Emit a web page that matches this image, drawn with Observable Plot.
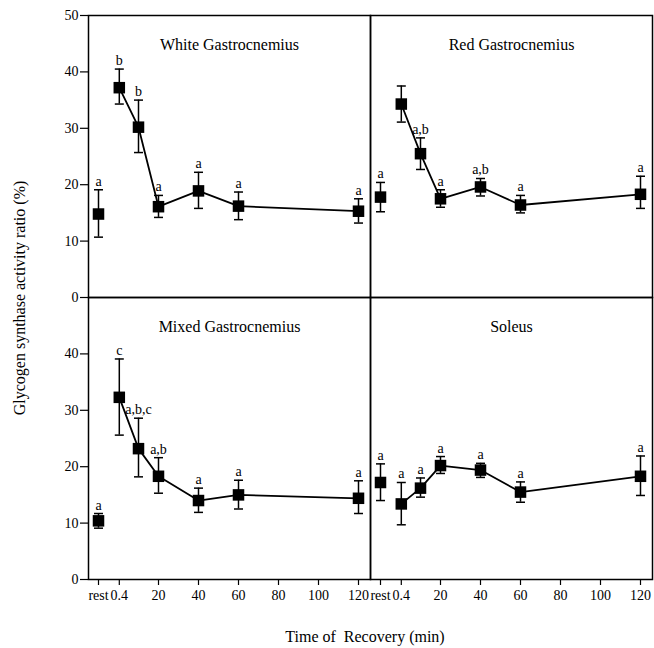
<!DOCTYPE html>
<html><head><meta charset="utf-8">
<script src="https://cdn.jsdelivr.net/npm/d3@7"></script>
<script src="https://cdn.jsdelivr.net/npm/@observablehq/plot@0.6"></script>
<style>body{margin:0;background:#fff}</style>
</head><body><div id="chart"></div>
<script>
// ---- data ----
const times = ["rest", 0.4, 10, 20, 40, 60, 120];
const restPosition = -10;
const xTickValues = ["rest", 0.4, 20, 40, 60, 80, 100, 120];
const yTicksTop = [0, 10, 20, 30, 40, 50];
const yTicksBottom = [0, 10, 20, 30, 40];
const muscles = ["White Gastrocnemius", "Red Gastrocnemius", "Mixed Gastrocnemius", "Soleus"];
const panelCol = ["left", "right", "left", "right"];
const panelRow = ["top", "top", "bottom", "bottom"];

const whiteMean = [14.8, 37.2, 30.2, 16.1, 18.9, 16.2, 15.3];
const whiteLow  = [10.7, 34.3, 25.7, 14.2, 15.8, 13.8, 13.2];
const whiteHigh = [19.1, 40.5, 35.0, 18.1, 22.2, 18.7, 17.5];
const whiteSig  = ["a", "b", "b", "a", "a", "a", "a"];

const redMean = [17.8, 34.3, 25.5, 17.5, 19.6, 16.4, 18.3];
const redLow  = [15.2, 31.1, 22.7, 16.0, 18.0, 15.0, 15.8];
const redHigh = [20.4, 37.5, 28.3, 19.1, 21.1, 18.1, 21.5];
const redSig  = ["a", "", "a,b", "a", "a,b", "a", "a"];

const mixedMean = [10.4, 32.3, 23.2, 18.3, 14.0, 15.0, 14.4];
const mixedLow  = [9.1, 25.6, 18.2, 15.3, 11.9, 12.5, 11.7];
const mixedHigh = [11.7, 39.1, 28.6, 21.6, 16.2, 17.6, 17.5];
const mixedSig  = ["a", "c", "a,b,c", "a,b", "a", "a", "a"];

const soleusMean = [17.2, 13.4, 16.2, 20.2, 19.4, 15.5, 18.3];
const soleusLow  = [14.0, 9.7, 14.6, 18.8, 18.1, 13.7, 14.9];
const soleusHigh = [20.5, 17.2, 18.0, 21.8, 20.6, 17.3, 21.9];
const soleusSig  = ["a", "a", "a", "a", "a", "a", "a"];

// ---- build tables ----
const series = [
  [whiteMean, whiteLow, whiteHigh, whiteSig],
  [redMean, redLow, redHigh, redSig],
  [mixedMean, mixedLow, mixedHigh, mixedSig],
  [soleusMean, soleusLow, soleusHigh, soleusSig]
];
const toX = t => t === "rest" ? restPosition : t;
const rows = [];
muscles.forEach((m, i) => {
  const [mean, low, high, sig] = series[i];
  times.forEach((t, j) => rows.push({
    muscle: m, col: panelCol[i], row: panelRow[i], time: t, x: toX(t),
    mean: mean[j], low: low[j], high: high[j], sig: sig[j]
  }));
});
const panels = muscles.map((m, i) => ({name: m, col: panelCol[i], row: panelRow[i]}));

const font = "'Liberation Serif', 'Times New Roman', serif";
const cap = {draw(context, size) { const r = Math.sqrt(size / Math.PI); context.moveTo(-r, 0); context.lineTo(r, 0); }};
const fc = {fx: "col", fy: "row"};

const chart = Plot.plot({
  width: 654, height: 648,
  marginLeft: 88, marginRight: 2, marginTop: 14, marginBottom: 69,
  style: {fontFamily: font, fontSize: "14px", color: "black", background: "white"},
  x: {domain: [-15, 126]},
  y: {domain: [0, 50]},
  fx: {domain: ["left", "right"], padding: 0, axis: null},
  fy: {domain: ["top", "bottom"], padding: 0, axis: null},
  marks: [
    Plot.frame({stroke: "black", strokeWidth: 1.5}),
    Plot.text(panels, {...fc, text: "name", frameAnchor: "top", lineAnchor: "bottom", dy: 34, fontSize: 16, fill: "black"}),
    Plot.line(rows.filter(d => d.time !== "rest"), {...fc, x: "x", y: "mean", z: "muscle", stroke: "black", strokeWidth: 1.8}),
    Plot.ruleX(rows, {...fc, x: "x", y1: "low", y2: "high", stroke: "black", strokeWidth: 1.5}),
    Plot.dot(rows, {...fc, x: "x", y: "low", symbol: cap, r: 4.5, fill: "none", stroke: "black", strokeWidth: 1.5}),
    Plot.dot(rows, {...fc, x: "x", y: "high", symbol: cap, r: 4.5, fill: "none", stroke: "black", strokeWidth: 1.5}),
    Plot.dot(rows, {...fc, x: "x", y: "mean", symbol: "square", r: 6.5, fill: "black", stroke: "none"}),
    Plot.text(rows, {...fc, x: "x", y: "high", text: "sig", lineAnchor: "bottom", dy: -4, fontSize: 14, fill: "black"}),
    Plot.axisX({ticks: xTickValues.map(toX), tickFormat: d => d === restPosition ? "rest" : String(d), tickSize: 6, tickPadding: 5, fontSize: 14, label: null, stroke: "black", strokeWidth: 1.2}),
    Plot.axisY(yTicksTop, {fy: () => "top", tickSize: 8, tickPadding: 2, fontSize: 14, label: null, stroke: "black", strokeWidth: 1.2}),
    Plot.axisY(yTicksBottom, {fy: () => "bottom", tickSize: 8, tickPadding: 2, fontSize: 14, label: null, stroke: "black", strokeWidth: 1.2})
  ]
});
document.getElementById("chart").appendChild(chart);

const svg = d3.select(chart);
svg.append("text")
  .attr("transform", "translate(25,298) rotate(-90)")
  .attr("text-anchor", "middle").attr("font-size", 16).attr("font-family", font).attr("fill", "black")
  .text("Glycogen synthase activity ratio (%)");
svg.append("text")
  .attr("x", 365).attr("y", 642)
  .attr("text-anchor", "middle").attr("font-size", 16).attr("font-family", font).attr("fill", "black")
  .text("Time of\u00a0 Recovery (min)");
</script>
</body></html>
